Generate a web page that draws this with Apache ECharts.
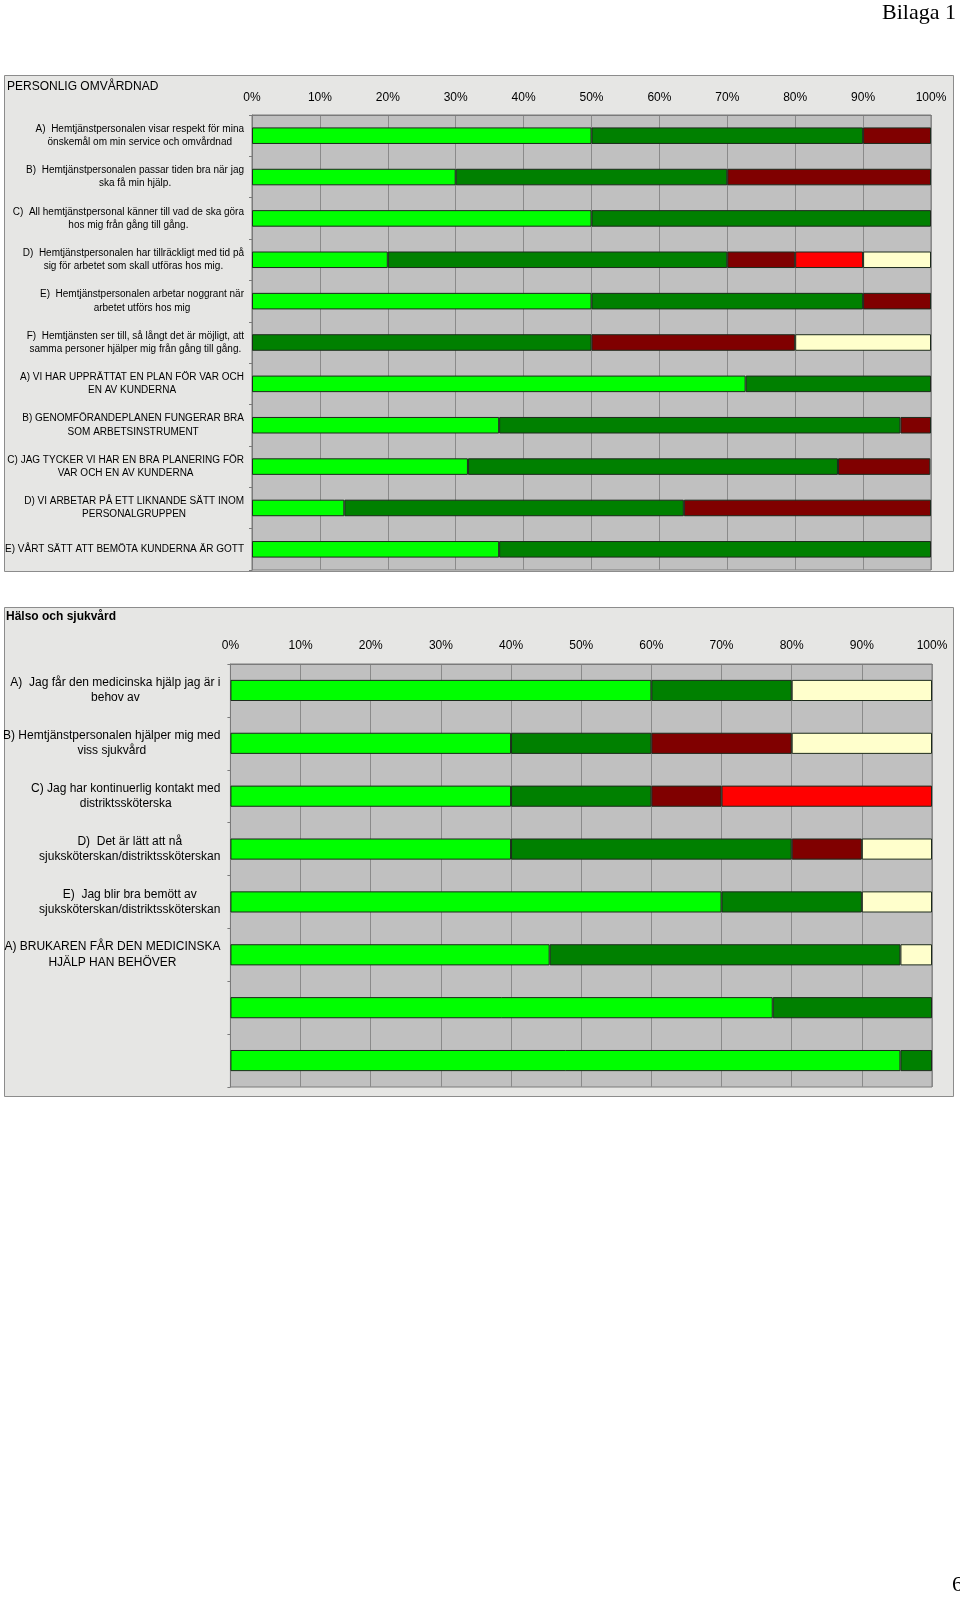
<!DOCTYPE html>
<html>
<head>
<meta charset="utf-8">
<script src="https://cdn.jsdelivr.net/npm/echarts@6/dist/echarts.min.js"></script>
<style>
html,body{margin:0;padding:0;background:#fff;}
#c{width:960px;height:1599px;}
</style>
</head>
<body>
<div id="c"></div>
<script>
// ---- data ----
var tickLabels = ['0%','10%','20%','30%','40%','50%','60%','70%','80%','90%','100%'];
var topTitle = 'PERSONLIG OMVÅRDNAD';
var topCategories = [
  'A)  Hemtjänstpersonalen visar respekt för mina\nönskemål om min service och omvårdnad',
  'B)  Hemtjänstpersonalen passar tiden bra när jag\nska få min hjälp.',
  'C)  All hemtjänstpersonal känner till vad de ska göra\nhos mig från gång till gång.',
  'D)  Hemtjänstpersonalen har tillräckligt med tid på\nsig för arbetet som skall utföras hos mig.',
  'E)  Hemtjänstpersonalen arbetar noggrant när\narbetet utförs hos mig',
  'F)  Hemtjänsten ser till, så långt det är möjligt, att\nsamma personer hjälper mig från gång till gång.',
  'A) VI HAR UPPRÄTTAT EN PLAN FÖR VAR OCH\nEN AV KUNDERNA',
  'B) GENOMFÖRANDEPLANEN FUNGERAR BRA\nSOM ARBETSINSTRUMENT',
  'C) JAG TYCKER VI HAR EN BRA PLANERING FÖR\nVAR OCH EN AV KUNDERNA',
  'D) VI ARBETAR PÅ ETT LIKNANDE SÄTT INOM\nPERSONALGRUPPEN',
  'E) VÅRT SÄTT ATT BEMÖTA KUNDERNA ÄR GOTT'
];
var topLightGreen = [50, 30, 50, 20, 50, 0, 72.7, 36.4, 31.8, 13.6, 36.4];
var topDarkGreen  = [40, 40, 50, 50, 40, 50, 27.3, 59.1, 54.5, 50.0, 63.6];
var topDarkRed    = [10, 30, 0, 10, 10, 30, 0, 4.5, 13.6, 36.4, 0];
var topRed        = [0, 0, 0, 10, 0, 0, 0, 0, 0, 0, 0];
var topCream      = [0, 0, 0, 10, 0, 20, 0, 0, 0, 0, 0];

var botTitle = 'Hälso och sjukvård';
var botCategories = [
  'A)  Jag får den medicinska hjälp jag är i\nbehov av',
  'B) Hemtjänstpersonalen hjälper mig med\nviss sjukvård',
  'C) Jag har kontinuerlig kontakt med\ndistriktssköterska',
  'D)  Det är lätt att nå\nsjuksköterskan/distriktssköterskan',
  'E)  Jag blir bra bemött av\nsjuksköterskan/distriktssköterskan',
  'A) BRUKAREN FÅR DEN MEDICINSKA\nHJÄLP HAN BEHÖVER',
  '',
  ''
];
var botLightGreen = [60, 40, 40, 40, 70, 45.5, 77.3, 95.5];
var botDarkGreen  = [20, 20, 20, 40, 20, 50.0, 22.7, 4.5];
var botDarkRed    = [0, 20, 10, 10, 0, 0, 0, 0];
var botRed        = [0, 0, 30, 0, 0, 0, 0, 0];
var botCream      = [20, 20, 0, 10, 10, 4.5, 0, 0];

var pageHeader = 'Bilaga 1';
var pageNumber = '6';

// ---- styling ----
var colors = ['#00ff00', '#008000', '#800000', '#ff0000', '#ffffcc'];
var FONT = '"Liberation Sans", Arial, sans-serif';
var SERIF = '"Liberation Serif", "Times New Roman", serif';

function clean(arr) { return arr.map(function (v) { return v === 0 ? '-' : v; }); }
function richLabel(v) {
  if (!v) return '';
  return v.split('\n').map(function (l) { return '{c|' + l + '}'; }).join('\n');
}

var grids = [
  {left: 252, top: 115, width: 679, height: 455},
  {left: 228, top: 664, width: 704, height: 423}
];

function xAxis(gi, margin) {
  return {
    type: 'value', gridIndex: gi, position: 'top', min: 0, max: 100, interval: 10,
    axisLine: {show: true, lineStyle: {color: '#7a7a7a', width: 1}},
    axisTick: {show: false},
    splitLine: {show: true, lineStyle: {color: '#8a8a8a', width: 1}},
    axisLabel: {
      margin: margin, color: '#000', fontFamily: FONT, fontSize: 12,
      formatter: function (v) { return tickLabels[Math.round(v / 10)]; }
    }
  };
}
function yAxis(gi, cats, fs, lh, margin) {
  return {
    type: 'category', gridIndex: gi, inverse: true, data: cats,
    axisLine: {show: true, lineStyle: {color: '#7a7a7a'}},
    axisTick: {show: true, length: 3, lineStyle: {color: '#7a7a7a'}},
    axisLabel: {
      margin: margin, align: 'right', color: '#000', fontFamily: FONT,
      formatter: richLabel,
      rich: {c: {align: 'center', fontSize: fs, lineHeight: lh, fontFamily: FONT, color: '#000'}}
    }
  };
}

var names = ['s1', 's2', 's3', 's4', 's5'];
function seriesFor(gi, arrs) {
  return arrs.map(function (a, i) {
    return {
      type: 'bar', name: names[i] + '_' + gi, xAxisIndex: gi, yAxisIndex: gi,
      stack: 'g' + gi, barWidth: '40%', data: clean(a),
      itemStyle: {color: colors[i], borderColor: '#1c2a1c', borderWidth: 1},
      emphasis: {disabled: true}, silent: true
    };
  });
}

var option = {
  animation: false,
  backgroundColor: '#ffffff',
  graphic: [
    {type: 'rect', z: -10, shape: {x: 4.5, y: 75.5, width: 949, height: 496},
     style: {fill: '#e6e6e4', stroke: '#8c8c8c', lineWidth: 1}},
    {type: 'rect', z: -10, shape: {x: 4.5, y: 607.5, width: 949, height: 489},
     style: {fill: '#e6e6e4', stroke: '#8c8c8c', lineWidth: 1}},
    {type: 'text', z: 10, x: 7, y: 87,
     style: {text: topTitle, font: '12px ' + FONT, fill: '#000', verticalAlign: 'middle', align: 'left'}},
    {type: 'text', z: 10, x: 6, y: 617,
     style: {text: botTitle, font: 'bold 12px ' + FONT, fill: '#000', verticalAlign: 'middle', align: 'left'}},
    {type: 'text', z: 10, x: 956, y: 13,
     style: {text: pageHeader, font: '22px ' + SERIF, fill: '#000', verticalAlign: 'middle', align: 'right'}},
    {type: 'text', z: 10, x: 952, y: 1585,
     style: {text: pageNumber, font: '22px ' + SERIF, fill: '#000', verticalAlign: 'middle', align: 'left'}}
  ],
  grid: grids.map(function (g) {
    return {left: g.left, top: g.top, width: g.width, height: g.height, show: true,
      backgroundColor: '#c0c0c0', borderColor: '#7a7a7a', borderWidth: 1, containLabel: false};
  }),
  xAxis: [xAxis(0, 11), xAxis(1, 12)],
  yAxis: [yAxis(0, topCategories, 10, 13.3, 8), yAxis(1, botCategories, 12, 15.4, 10)],
  series: seriesFor(0, [topLightGreen, topDarkGreen, topDarkRed, topRed, topCream])
    .concat(seriesFor(1, [botLightGreen, botDarkGreen, botDarkRed, botRed, botCream]))
};

var chart = echarts.init(document.getElementById('c'), null, {renderer: 'canvas'});
chart.setOption(option);
</script>
</body>
</html>
